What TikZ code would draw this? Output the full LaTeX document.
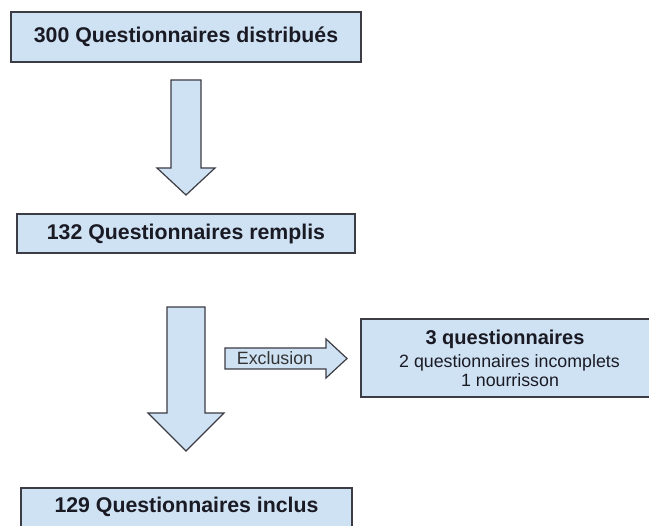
\documentclass[tikz,border=0pt]{standalone}
\usepackage{fontspec}
\setmainfont{Liberation Sans}
\definecolor{boxfill}{HTML}{CFE2F3}
\definecolor{boxline}{HTML}{3C3C44}
\definecolor{txt}{HTML}{1A1A24}
\begin{document}
\begin{tikzpicture}[x=1pt,y=-1pt,
  box/.style={draw=boxline,fill=boxfill,line width=1.3pt,inner sep=0pt,text=txt},
  bigtext/.style={font=\fontsize{21.3}{24}\selectfont\bfseries},
  blockarrow/.style={draw=boxline,fill=boxfill,line width=1.2pt,line join=miter}]
\useasboundingbox (0,0) rectangle (649,526);
\fill[white] (0,0) rectangle (649,526);
\begin{scope}
\clip (0,0) rectangle (649,526);
% boxes
\node[box,minimum width=350pt,minimum height=50pt,bigtext] (b1) at (186,37) {300 Questionnaires distribués};
\node[box,minimum width=338pt,minimum height=39pt,bigtext] (b2) at (186,233.5) {132 Questionnaires remplis};
\node[box,minimum width=331pt,minimum height=40pt] (b4) at (186.5,508) {};
\node[bigtext,text=txt,anchor=base] (t4) at (186.5,513) {129 Questionnaires inclus};
\node[box,minimum width=300pt,minimum height=78pt] (b3) at (511,358) {};
\node[text=txt,font=\fontsize{20}{22}\selectfont\bfseries,anchor=base] (t3a) at (505,345) {3 questionnaires};
\node[text=txt,font=\fontsize{17.8}{20}\selectfont,anchor=base] (t3b) at (509.5,368) {2 questionnaires incomplets};
\node[text=txt,font=\fontsize{17.8}{20}\selectfont,anchor=base] (t3c) at (510,386.5) {1 nourrisson};
\end{scope}
% block arrows
\draw[blockarrow] (171,80) -- (201,80) -- (201,168) -- (215,168) -- (186,195) -- (157,168) -- (171,168) -- cycle;
\draw[blockarrow] (167,307) -- (205,307) -- (205,413) -- (224,413) -- (186,451) -- (148,413) -- (167,413) -- cycle;
\draw[blockarrow] (225,348) -- (326,348) -- (326,339) -- (347,358.5) -- (326,378) -- (326,369) -- (225,369) -- cycle;
\node[text=black!80,font=\fontsize{17.8}{20}\selectfont,anchor=base] (ex) at (275,365) {Exclusion};
\end{tikzpicture}
\end{document}
